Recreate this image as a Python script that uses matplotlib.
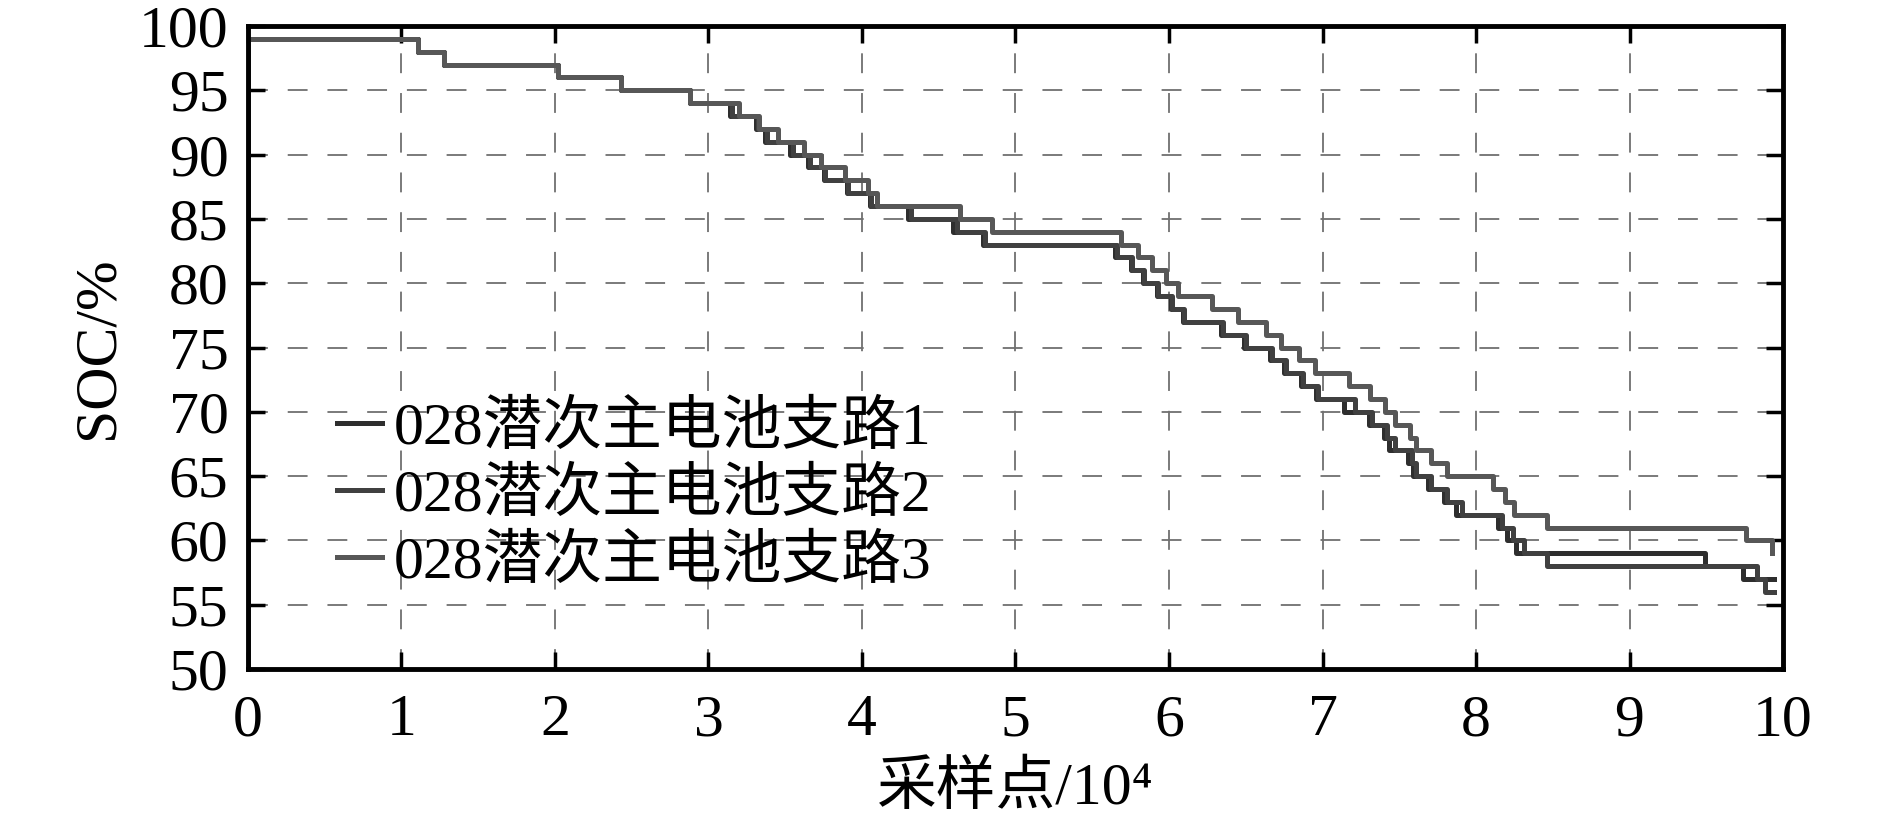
import matplotlib
matplotlib.use('Agg')
import matplotlib.pyplot as plt

plt.rcParams['font.family'] = ['Liberation Serif', 'Noto Sans CJK SC', 'DejaVu Serif']

# step start positions (x in units of 1e4 samples) and SOC values (%)
x_common = [0, 0, 1.11, 1.28, 2.02, 2.43, 2.88]
soc_common = [0, 99, 98, 97, 96, 95, 94]

x_b1 = [3.14, 3.31, 3.37, 3.53, 3.65, 3.75, 3.90, 4.05, 4.30, 4.59, 4.79, 5.65, 5.75, 5.83,
        5.92, 6.01, 6.09, 6.34, 6.49, 6.66, 6.75, 6.86, 6.96, 7.14, 7.30, 7.40, 7.43, 7.56,
        7.59, 7.69, 7.79, 7.87, 8.14, 8.20, 8.26, 9.49, 9.74, 9.94]
soc_b1 = [93, 92, 91, 90, 89, 88, 87, 86, 85, 84, 83, 82, 81, 80,
          79, 78, 77, 76, 75, 74, 73, 72, 71, 70, 69, 68, 67, 66,
          65, 64, 63, 62, 61, 60, 59, 58, 57, 57]

x_b2 = [3.15, 3.32, 3.38, 3.55, 3.66, 3.76, 3.91, 4.06, 4.32, 4.62, 4.80, 5.66, 5.76, 5.84,
        5.93, 6.02, 6.10, 6.35, 6.50, 6.67, 6.76, 6.87, 6.97, 7.21, 7.32, 7.42, 7.47, 7.58,
        7.61, 7.71, 7.81, 7.91, 8.17, 8.24, 8.31, 8.46, 9.83, 9.88, 9.94]
soc_b2 = [93, 92, 91, 90, 89, 88, 87, 86, 85, 84, 83, 82, 81, 80,
          79, 78, 77, 76, 75, 74, 73, 72, 71, 70, 69, 68, 67, 66,
          65, 64, 63, 62, 61, 60, 59, 58, 57, 56, 56]

x_b3 = [3.20, 3.33, 3.45, 3.62, 3.73, 3.89, 4.04, 4.10, 4.64, 4.85, 5.69, 5.80, 5.89, 5.98,
        6.06, 6.28, 6.45, 6.63, 6.73, 6.85, 6.95, 7.17, 7.31, 7.41, 7.47, 7.57, 7.61, 7.71,
        7.81, 8.11, 8.19, 8.25, 8.46, 9.76, 9.93]
soc_b3 = [93, 92, 91, 90, 89, 88, 87, 86, 85, 84, 83, 82, 81, 80,
          79, 78, 77, 76, 75, 74, 73, 72, 71, 70, 69, 68, 67, 66,
          65, 64, 63, 62, 61, 60, 59]

labels = ['028潜次主电池支路1', '028潜次主电池支路2', '028潜次主电池支路3']
colors = ['#2e2e2e', '#404040', '#575757']

fig = plt.figure(figsize=(18.9, 8.22), dpi=100)
ax = fig.add_axes([0.1312, 0.1861, 0.8122, 0.7823])

for xs, ys, lab, c in zip([x_b1, x_b2, x_b3], [soc_b1, soc_b2, soc_b3], labels, colors):
    ax.plot(x_common + xs, soc_common + ys, drawstyle='steps-post', color=c, lw=3.6, label=lab)

ax.set_xlim(0, 10)
ax.set_ylim(50, 100)
ax.set_xticks(range(0, 11))
ax.set_yticks(range(50, 101, 5))
ax.grid(True, color='#707070', lw=1.3, linestyle=(0, (11, 11)))
ax.set_axisbelow(True)

for s in ax.spines.values():
    s.set_linewidth(3.5)
    s.set_color('black')
ax.tick_params(direction='in', top=True, right=True, length=12, width=2.5, labelsize=43)
ax.tick_params(axis='x', pad=18)
ax.tick_params(axis='y', pad=14)

ax.set_xlabel('采样点/10⁴', fontsize=43, labelpad=10)
ax.set_ylabel('SOC/%', fontsize=43, labelpad=10)

leg = ax.legend(loc='center left', bbox_to_anchor=(0.058, 0.268), frameon=False,
                fontsize=43, handlelength=0.75, handletextpad=0.2, labelspacing=0.2,
                borderpad=0, borderaxespad=0)

fig.savefig('out.png', dpi=100)
